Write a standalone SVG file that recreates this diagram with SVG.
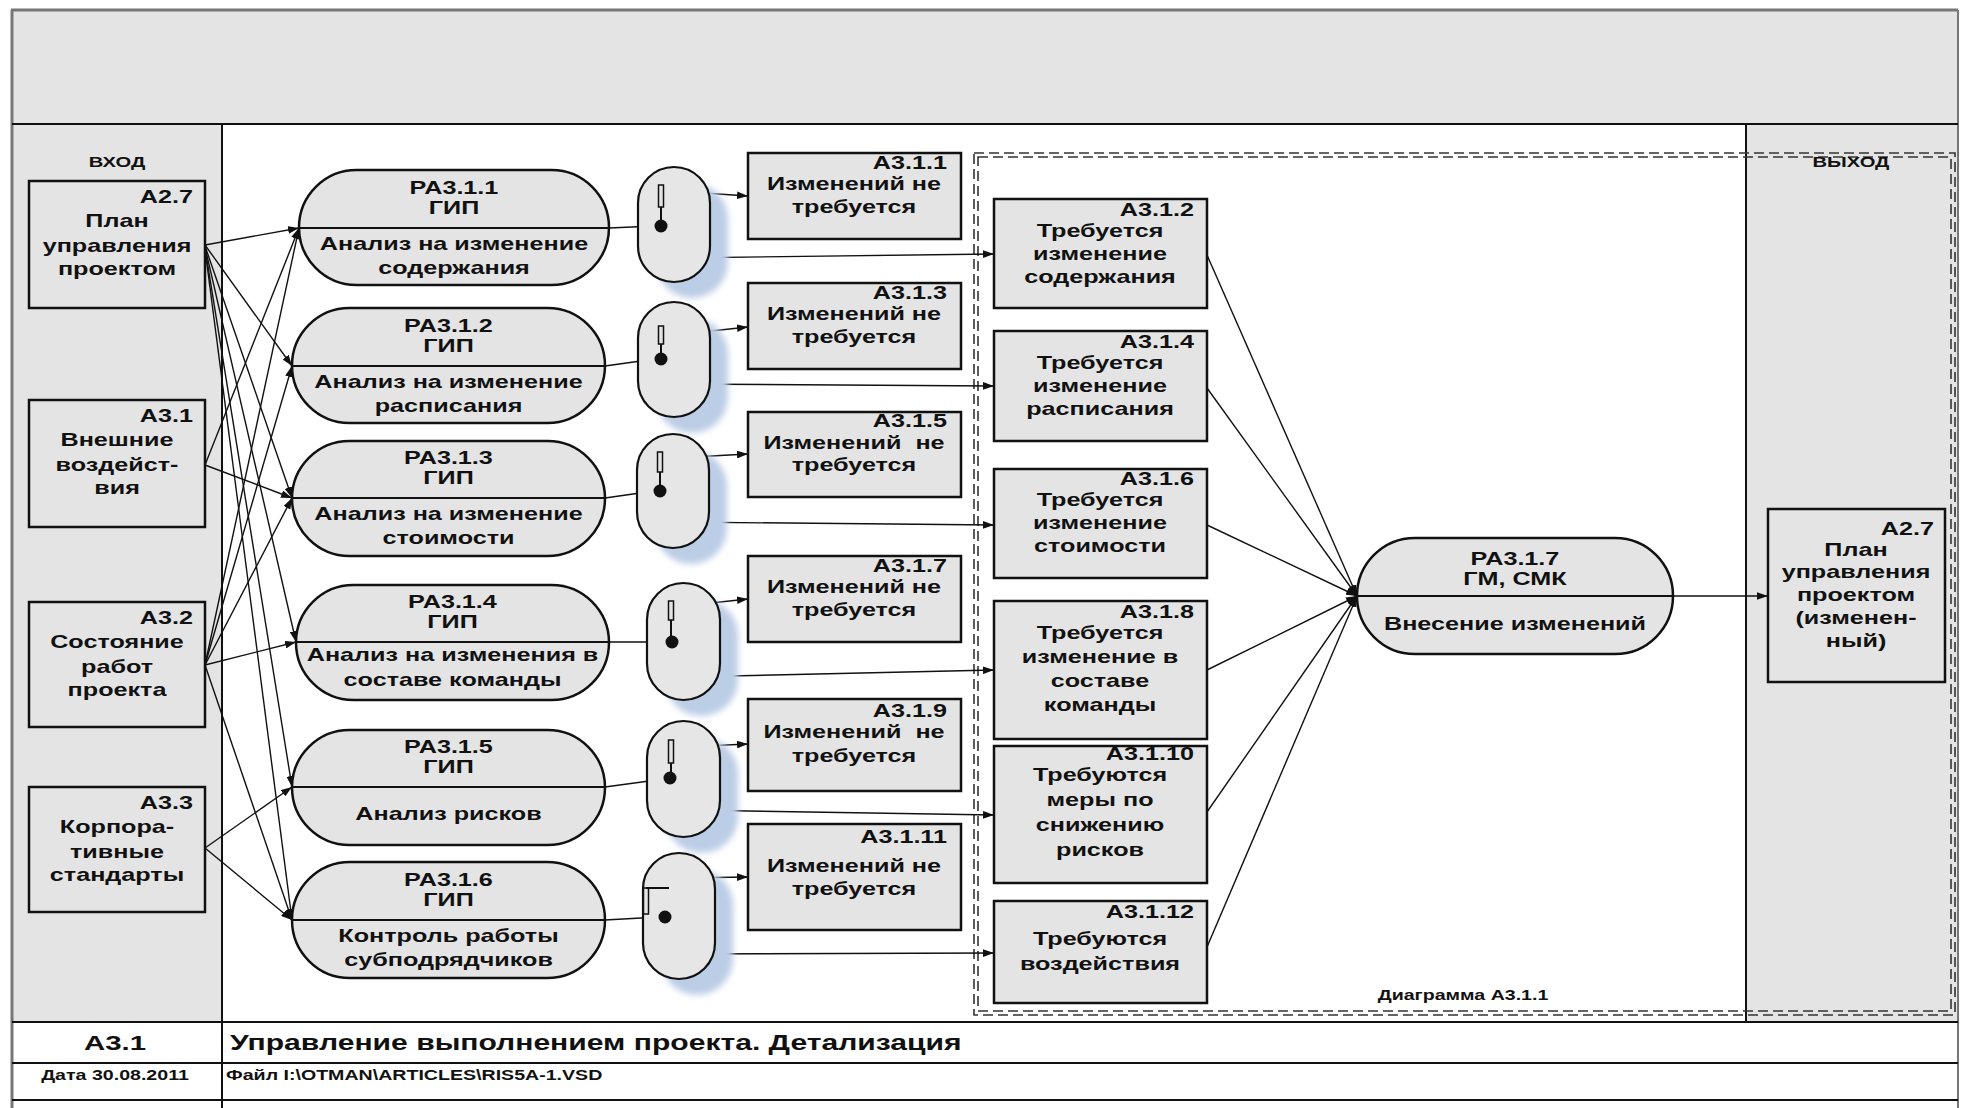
<svg xmlns="http://www.w3.org/2000/svg" width="1961" height="1108" viewBox="0 0 1961 1108">
<defs>
<style>
.t{font-family:"Liberation Sans",Arial,sans-serif;font-weight:bold;font-size:18px;fill:#111;text-anchor:middle}
.e{text-anchor:end}
.s{text-anchor:start}
.box{fill:#e4e4e4;stroke:#111;stroke-width:2.5}
.proc{fill:#e4e4e4;stroke:#111;stroke-width:2.5}
.div{stroke:#111;stroke-width:2;fill:none}
.sw{fill:#e6e6e6;stroke:#111;stroke-width:2.2}
.sh{fill:#bccde6;filter:url(#blur)}
.lev{fill:#e4e4e4;stroke:#111;stroke-width:1.5}
.c{fill:none;stroke:#111;stroke-width:1.4;marker-end:url(#ah)}
.fr{stroke:#111;stroke-width:2;fill:none}
.dash{fill:none;stroke:#333;stroke-width:1.6;stroke-dasharray:10 5}
</style>
<marker id="ah" viewBox="0 0 10 7" refX="10" refY="3.5" markerWidth="11" markerHeight="7.7" markerUnits="userSpaceOnUse" orient="auto"><path d="M0,0L10,3.5L0,7z" fill="#111"/></marker>
<filter id="blur" x="-30%" y="-30%" width="160%" height="160%"><feGaussianBlur stdDeviation="3"/></filter>
</defs>
<rect x="0" y="0" width="1961" height="1108" fill="#fff"/>
<g id="frame">
<rect x="12" y="10" width="1946" height="114" fill="#e4e4e4"/>
<rect x="12" y="124" width="210" height="898" fill="#e4e4e4"/>
<rect x="1746" y="124" width="212" height="898" fill="#e4e4e4"/>
<line x1="12" y1="10" x2="12" y2="1108" stroke="#777" stroke-width="3"/>
<line x1="11" y1="10" x2="1958" y2="10" stroke="#777" stroke-width="3"/>
<line x1="1958" y1="10" x2="1958" y2="1108" stroke="#777" stroke-width="2"/>
<line class="fr" x1="12" y1="124" x2="1958" y2="124"/>
<line class="fr" x1="222" y1="124" x2="222" y2="1108"/>
<line class="fr" x1="1746" y1="124" x2="1746" y2="1022"/>
<line class="fr" x1="12" y1="1022" x2="1958" y2="1022"/>
<line class="fr" x1="12" y1="1063" x2="1958" y2="1063"/>
<line class="fr" x1="12" y1="1100" x2="1958" y2="1100"/>
<text class="t" style="font-size:15.5px" transform="translate(117 167) scale(1.3 1)">ВХОД</text>
<text class="t" style="font-size:21px" transform="translate(115 1050) scale(1.4 1)">А3.1</text>
<text class="t s" style="font-size:21.5px" transform="translate(230 1050) scale(1.4 1)">Управление выполнением проекта. Детализация</text>
<text class="t" style="font-size:14px" transform="translate(115 1080) scale(1.4 1)">Дата 30.08.2011</text>
<text class="t s" style="font-size:14px" transform="translate(226 1080) scale(1.4 1)">Файл I:\OTMAN\ARTICLES\RIS5A-1.VSD</text>
</g>
<g id="diagram-frame">
<rect class="dash" x="974" y="153" width="981" height="862"/>
<rect class="dash" x="978" y="157" width="973" height="854"/>
<text class="t" style="font-size:15.5px" transform="translate(1851 167) scale(1.3 1)">ВЫХОД</text>
<text class="t" style="font-size:14px" transform="translate(1463 1000) scale(1.4 1)">Диаграмма А3.1.1</text>
</g>
<g id="connectors">
<line class="c" x1="205" y1="245" x2="299" y2="228"/>
<line class="c" x1="205" y1="245" x2="292" y2="366"/>
<line class="c" x1="205" y1="246" x2="292" y2="498"/>
<line class="c" x1="205" y1="247" x2="296" y2="642"/>
<line class="c" x1="205" y1="248" x2="292" y2="787"/>
<line class="c" x1="205" y1="249" x2="292" y2="920"/>
<line class="c" x1="205" y1="465" x2="299" y2="228"/>
<line class="c" x1="205" y1="465" x2="292" y2="498"/>
<line class="c" x1="205" y1="665" x2="299" y2="228"/>
<line class="c" x1="205" y1="665" x2="292" y2="366"/>
<line class="c" x1="205" y1="665" x2="292" y2="498"/>
<line class="c" x1="205" y1="665" x2="296" y2="642"/>
<line class="c" x1="205" y1="665" x2="292" y2="920"/>
<line class="c" x1="205" y1="848" x2="292" y2="787"/>
<line class="c" x1="205" y1="848" x2="292" y2="920"/>
<line class="c" x1="609" y1="228" x2="655" y2="226"/>
<line class="c" x1="605" y1="366" x2="655" y2="359"/>
<line class="c" x1="605" y1="498" x2="654" y2="491"/>
<line class="c" x1="609" y1="642" x2="666" y2="642"/>
<line class="c" x1="605" y1="787" x2="664" y2="779"/>
<line class="c" x1="605" y1="920" x2="659" y2="917"/>
<line class="c" x1="674" y1="191" x2="748" y2="196"/>
<line class="c" x1="675" y1="258" x2="994" y2="254"/>
<line class="c" x1="674" y1="335" x2="748" y2="327"/>
<line class="c" x1="675" y1="384" x2="994" y2="386"/>
<line class="c" x1="674" y1="458" x2="748" y2="454"/>
<line class="c" x1="675" y1="522" x2="994" y2="525"/>
<line class="c" x1="683" y1="606" x2="748" y2="599"/>
<line class="c" x1="685" y1="677" x2="994" y2="670"/>
<line class="c" x1="683" y1="747" x2="748" y2="744"/>
<line class="c" x1="685" y1="810" x2="994" y2="815"/>
<line class="c" x1="679" y1="878" x2="748" y2="877"/>
<line class="c" x1="679" y1="954" x2="994" y2="953"/>
<line class="c" x1="1207" y1="255" x2="1357" y2="596"/>
<line class="c" x1="1207" y1="388" x2="1357" y2="596"/>
<line class="c" x1="1207" y1="525" x2="1357" y2="596"/>
<line class="c" x1="1207" y1="670" x2="1357" y2="596"/>
<line class="c" x1="1207" y1="812" x2="1357" y2="596"/>
<line class="c" x1="1207" y1="947" x2="1357" y2="596"/>
<line class="c" x1="1673" y1="596" x2="1768" y2="596"/>
</g>
<g id="in-a27"><rect class="box" x="29" y="181" width="176" height="127"/><text class="t e" transform="translate(193 203) scale(1.4 1)">А2.7</text><text class="t" transform="translate(117 0) scale(1.4 1)"><tspan x="0" y="227">План</tspan><tspan x="0" y="252">управления</tspan><tspan x="0" y="275">проектом</tspan></text></g>
<g id="in-a31"><rect class="box" x="29" y="400" width="176" height="127"/><text class="t e" transform="translate(193 422) scale(1.4 1)">А3.1</text><text class="t" transform="translate(117 0) scale(1.4 1)"><tspan x="0" y="446">Внешние</tspan><tspan x="0" y="471">воздейст-</tspan><tspan x="0" y="494">вия</tspan></text></g>
<g id="in-a32"><rect class="box" x="29" y="602" width="176" height="125"/><text class="t e" transform="translate(193 624) scale(1.4 1)">А3.2</text><text class="t" transform="translate(117 0) scale(1.4 1)"><tspan x="0" y="648">Состояние</tspan><tspan x="0" y="673">работ</tspan><tspan x="0" y="696">проекта</tspan></text></g>
<g id="in-a33"><rect class="box" x="29" y="787" width="176" height="125"/><text class="t e" transform="translate(193 809) scale(1.4 1)">А3.3</text><text class="t" transform="translate(117 0) scale(1.4 1)"><tspan x="0" y="833">Корпора-</tspan><tspan x="0" y="858">тивные</tspan><tspan x="0" y="881">стандарты</tspan></text></g>
<g id="pa311"><rect class="proc" x="299" y="170" width="310" height="115" rx="57.5"/><line class="div" x1="299" y1="228" x2="609" y2="228"/><text class="t" transform="translate(454 0) scale(1.4 1)"><tspan x="0" y="194">РА3.1.1</tspan><tspan x="0" y="214">ГИП</tspan><tspan x="0" y="250">Анализ на изменение</tspan><tspan x="0" y="274">содержания</tspan></text></g>
<g id="pa312"><rect class="proc" x="292" y="308" width="313" height="115" rx="57.5"/><line class="div" x1="292" y1="366" x2="605" y2="366"/><text class="t" transform="translate(448.5 0) scale(1.4 1)"><tspan x="0" y="332">РА3.1.2</tspan><tspan x="0" y="352">ГИП</tspan><tspan x="0" y="388">Анализ на изменение</tspan><tspan x="0" y="412">расписания</tspan></text></g>
<g id="pa313"><rect class="proc" x="292" y="441" width="313" height="115" rx="57.5"/><line class="div" x1="292" y1="498" x2="605" y2="498"/><text class="t" transform="translate(448.5 0) scale(1.4 1)"><tspan x="0" y="464">РА3.1.3</tspan><tspan x="0" y="484">ГИП</tspan><tspan x="0" y="520">Анализ на изменение</tspan><tspan x="0" y="544">стоимости</tspan></text></g>
<g id="pa314"><rect class="proc" x="296" y="585" width="313" height="115" rx="57.5"/><line class="div" x1="296" y1="642" x2="609" y2="642"/><text class="t" transform="translate(452.5 0) scale(1.4 1)"><tspan x="0" y="608">РА3.1.4</tspan><tspan x="0" y="628">ГИП</tspan><tspan x="0" y="661">Анализ на изменения в</tspan><tspan x="0" y="686">составе команды</tspan></text></g>
<g id="pa315"><rect class="proc" x="292" y="730" width="313" height="115" rx="57.5"/><line class="div" x1="292" y1="787" x2="605" y2="787"/><text class="t" transform="translate(448.5 0) scale(1.4 1)"><tspan x="0" y="753">РА3.1.5</tspan><tspan x="0" y="773">ГИП</tspan><tspan x="0" y="820">Анализ рисков</tspan></text></g>
<g id="pa316"><rect class="proc" x="292" y="862" width="313" height="116" rx="58"/><line class="div" x1="292" y1="920" x2="605" y2="920"/><text class="t" transform="translate(448.5 0) scale(1.4 1)"><tspan x="0" y="886">РА3.1.6</tspan><tspan x="0" y="906">ГИП</tspan><tspan x="0" y="942">Контроль работы</tspan><tspan x="0" y="966">субподрядчиков</tspan></text></g>
<g id="sw1"><rect class="sh" x="656" y="183" width="72" height="115" rx="36"/><rect class="sw" x="638" y="167" width="72" height="115" rx="36"/><rect class="lev" x="658.5" y="185" width="5" height="22"/><line class="div" x1="661" y1="207" x2="661" y2="226"/><circle cx="661" cy="226" r="6.5" fill="#111"/></g>
<g id="sw2"><rect class="sh" x="656" y="318" width="72" height="115" rx="36"/><rect class="sw" x="638" y="302" width="72" height="115" rx="36"/><rect class="lev" x="658.5" y="326" width="5" height="18"/><line class="div" x1="661" y1="344" x2="661" y2="359"/><circle cx="661" cy="359" r="6.5" fill="#111"/></g>
<g id="sw3"><rect class="sh" x="655" y="450" width="72" height="114" rx="36"/><rect class="sw" x="637" y="434" width="72" height="114" rx="36"/><rect class="lev" x="657.5" y="452" width="5" height="20"/><line class="div" x1="660" y1="472" x2="660" y2="491"/><circle cx="660" cy="491" r="6.5" fill="#111"/></g>
<g id="sw4"><rect class="sh" x="665" y="599" width="73" height="117" rx="36.5"/><rect class="sw" x="647" y="583" width="73" height="117" rx="36.5"/><rect class="lev" x="668.5" y="601" width="5" height="19"/><line class="div" x1="671" y1="620" x2="671" y2="642"/><circle cx="672" cy="642" r="6.5" fill="#111"/></g>
<g id="sw5"><rect class="sh" x="665" y="737" width="73" height="116" rx="36.5"/><rect class="sw" x="647" y="721" width="73" height="116" rx="36.5"/><rect class="lev" x="668.5" y="740" width="5" height="23"/><line class="div" x1="671" y1="763" x2="671" y2="778"/><circle cx="670" cy="778" r="6.5" fill="#111"/></g>
<g id="sw6"><rect class="sh" x="661" y="869" width="72" height="126" rx="36"/><rect class="sw" x="643" y="853" width="72" height="126" rx="36"/><rect class="lev" x="643.5" y="888" width="5" height="26"/><line class="div" x1="646" y1="888" x2="669" y2="888"/><circle cx="665" cy="917" r="6.5" fill="#111"/></g>
<g id="a311"><rect class="box" x="748" y="153" width="213" height="86"/><text class="t e" transform="translate(947 169) scale(1.4 1)">А3.1.1</text><text class="t" transform="translate(854 0) scale(1.4 1)"><tspan x="0" y="190">Изменений не</tspan><tspan x="0" y="213">требуется</tspan></text></g>
<g id="a313"><rect class="box" x="748" y="283" width="213" height="86"/><text class="t e" transform="translate(947 299) scale(1.4 1)">А3.1.3</text><text class="t" transform="translate(854 0) scale(1.4 1)"><tspan x="0" y="320">Изменений не</tspan><tspan x="0" y="343">требуется</tspan></text></g>
<g id="a315"><rect class="box" x="748" y="412" width="213" height="85"/><text class="t e" transform="translate(947 427) scale(1.4 1)">А3.1.5</text><text class="t" xml:space="preserve" transform="translate(854 0) scale(1.4 1)"><tspan x="0" y="449">Изменений  не</tspan><tspan x="0" y="471">требуется</tspan></text></g>
<g id="a317"><rect class="box" x="748" y="556" width="213" height="86"/><text class="t e" transform="translate(947 572) scale(1.4 1)">А3.1.7</text><text class="t" transform="translate(854 0) scale(1.4 1)"><tspan x="0" y="593">Изменений не</tspan><tspan x="0" y="616">требуется</tspan></text></g>
<g id="a319"><rect class="box" x="748" y="699" width="213" height="92"/><text class="t e" transform="translate(947 717) scale(1.4 1)">А3.1.9</text><text class="t" xml:space="preserve" transform="translate(854 0) scale(1.4 1)"><tspan x="0" y="738">Изменений  не</tspan><tspan x="0" y="762">требуется</tspan></text></g>
<g id="a3111"><rect class="box" x="748" y="824" width="213" height="106"/><text class="t e" transform="translate(947 843) scale(1.4 1)">А3.1.11</text><text class="t" transform="translate(854 0) scale(1.4 1)"><tspan x="0" y="872">Изменений не</tspan><tspan x="0" y="895">требуется</tspan></text></g>
<g id="a312"><rect class="box" x="994" y="199" width="213" height="109"/><text class="t e" transform="translate(1194 216) scale(1.4 1)">А3.1.2</text><text class="t" transform="translate(1100 0) scale(1.4 1)"><tspan x="0" y="237">Требуется</tspan><tspan x="0" y="260">изменение</tspan><tspan x="0" y="283">содержания</tspan></text></g>
<g id="a314"><rect class="box" x="994" y="331" width="213" height="110"/><text class="t e" transform="translate(1194 348) scale(1.4 1)">А3.1.4</text><text class="t" transform="translate(1100 0) scale(1.4 1)"><tspan x="0" y="369">Требуется</tspan><tspan x="0" y="392">изменение</tspan><tspan x="0" y="415">расписания</tspan></text></g>
<g id="a316"><rect class="box" x="994" y="469" width="213" height="109"/><text class="t e" transform="translate(1194 485) scale(1.4 1)">А3.1.6</text><text class="t" transform="translate(1100 0) scale(1.4 1)"><tspan x="0" y="506">Требуется</tspan><tspan x="0" y="529">изменение</tspan><tspan x="0" y="552">стоимости</tspan></text></g>
<g id="a318"><rect class="box" x="994" y="601" width="213" height="138"/><text class="t e" transform="translate(1194 618) scale(1.4 1)">А3.1.8</text><text class="t" transform="translate(1100 0) scale(1.4 1)"><tspan x="0" y="639">Требуется</tspan><tspan x="0" y="663">изменение в</tspan><tspan x="0" y="687">составе</tspan><tspan x="0" y="711">команды</tspan></text></g>
<g id="a3110"><rect class="box" x="994" y="746" width="213" height="137"/><text class="t e" transform="translate(1194 760) scale(1.4 1)">А3.1.10</text><text class="t" transform="translate(1100 0) scale(1.4 1)"><tspan x="0" y="781">Требуются</tspan><tspan x="0" y="806">меры по</tspan><tspan x="0" y="831">снижению</tspan><tspan x="0" y="856">рисков</tspan></text></g>
<g id="a3112"><rect class="box" x="994" y="901" width="213" height="102"/><text class="t e" transform="translate(1194 918) scale(1.4 1)">А3.1.12</text><text class="t" transform="translate(1100 0) scale(1.4 1)"><tspan x="0" y="945">Требуются</tspan><tspan x="0" y="970">воздействия</tspan></text></g>
<g id="pa317"><rect class="proc" x="1357" y="538" width="316" height="116" rx="58"/><line class="div" x1="1357" y1="596" x2="1673" y2="596"/><text class="t" transform="translate(1515 0) scale(1.4 1)"><tspan x="0" y="565">РА3.1.7</tspan><tspan x="0" y="585">ГМ, СМК</tspan><tspan x="0" y="630">Внесение изменений</tspan></text></g>
<g id="out-a27"><rect class="box" x="1768" y="509" width="177" height="173"/><text class="t e" transform="translate(1934 535) scale(1.4 1)">А2.7</text><text class="t" transform="translate(1856 0) scale(1.4 1)"><tspan x="0" y="556">План</tspan><tspan x="0" y="578">управления</tspan><tspan x="0" y="601">проектом</tspan><tspan x="0" y="624">(изменен-</tspan><tspan x="0" y="647">ный)</tspan></text></g>
</svg>
